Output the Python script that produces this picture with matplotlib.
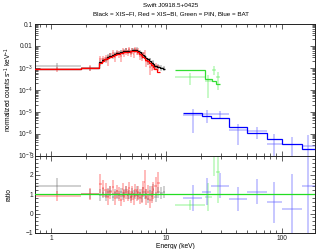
import numpy as np
import matplotlib
matplotlib.use("Agg")
import matplotlib.pyplot as plt
from matplotlib.ticker import FixedLocator, FixedFormatter, LogLocator, NullFormatter, MultipleLocator

# ---------------- data ----------------
title_1 = "Swift J0918.5+0425"
title_2 = "Black = XIS\u2212FI, Red = XIS\u2212BI, Green = PIN, Blue = BAT"

# XIS-FI (black) bins
fi_edges = [0.7, 1.83, 2.6, 2.75, 2.9, 3.05, 3.2, 3.35, 3.5, 3.65, 3.8, 3.95, 4.1, 4.25,
            4.4, 4.55, 4.7, 4.85, 5.0, 5.15, 5.3, 5.45, 5.6, 5.8, 6.0, 6.2, 6.4, 6.6,
            6.8, 7.05, 7.3, 7.6, 7.9, 8.3, 8.8, 9.3, 9.8]
fi_model = [8.6e-4, 1.0e-3, 1.82e-3, 2.19e-3, 2.63e-3, 3.09e-3, 3.55e-3, 3.89e-3, 4.27e-3,
            4.57e-3, 4.90e-3, 5.13e-3, 5.37e-3, 5.62e-3, 5.75e-3, 5.89e-3, 6.03e-3, 6.17e-3,
            6.31e-3, 6.46e-3, 6.46e-3, 6.46e-3, 6.03e-3, 5.13e-3, 4.37e-3, 3.80e-3, 3.31e-3,
            2.88e-3, 2.45e-3, 2.09e-3, 1.74e-3, 1.48e-3, 1.26e-3, 1.10e-3, 9.8e-4, 9.1e-4]
fi_ratio = [1.40, 1.00, 0.95, 1.05, 0.90, 1.10, 1.15, 0.85, 1.05, 1.00, 0.95, 1.10, 0.90,
            1.05, 1.20, 0.95, 1.00, 0.85, 1.10, 1.00, 0.95, 1.15, 0.90, 1.05, 0.80, 1.10,
            0.95, 1.00, 0.75, 1.15, 0.90, 1.25, 0.85, 1.10, 1.05, 1.10]
fi_err = [0.45, 0.25, 0.30, 0.25, 0.25, 0.22, 0.25, 0.22, 0.20, 0.22, 0.20, 0.22, 0.20,
          0.22, 0.25, 0.20, 0.22, 0.20, 0.22, 0.20, 0.22, 0.25, 0.22, 0.22, 0.20, 0.25,
          0.22, 0.25, 0.22, 0.25, 0.25, 0.28, 0.25, 0.28, 0.30, 0.30]

# XIS-BI (red) bins
bi_edges = [0.7, 1.83, 2.6, 2.75, 2.9, 3.05, 3.2, 3.35, 3.5, 3.65, 3.8, 3.95, 4.1, 4.25,
            4.4, 4.55, 4.7, 4.85, 5.0, 5.15, 5.3, 5.45, 5.6, 5.8, 6.0, 6.2, 6.4, 6.6,
            6.8, 7.05, 7.3, 7.6, 7.9, 8.3, 8.8]
bi_model = [9.3e-4, 1.0e-3, 1.68e-3, 2.02e-3, 2.42e-3, 2.84e-3, 3.27e-3, 3.58e-3, 3.93e-3,
            4.20e-3, 4.50e-3, 4.72e-3, 4.94e-3, 5.17e-3, 5.29e-3, 5.42e-3, 5.55e-3, 5.68e-3,
            5.80e-3, 5.94e-3, 5.94e-3, 5.94e-3, 5.40e-3, 4.50e-3, 3.80e-3, 3.20e-3, 2.75e-3,
            2.35e-3, 1.95e-3, 1.62e-3, 1.30e-3, 1.05e-3, 8.4e-4, 6.6e-4]
bi_ratio = [0.92, 1.00, 1.55, 1.30, 1.20, 0.85, 1.10, 1.35, 0.80, 1.15, 1.00, 0.70, 1.25,
            0.90, 1.10, 0.95, 1.30, 0.85, 1.05, 0.75, 1.20, 0.95, 1.10, 0.80, 0.90, 1.30,
            1.65, 0.85, 1.10, 0.70, 1.00, 1.20, 1.40, 1.60]
bi_err = [0.25, 0.30, 0.50, 0.45, 0.40, 0.40, 0.35, 0.40, 0.35, 0.35, 0.35, 0.30, 0.35,
          0.30, 0.35, 0.30, 0.35, 0.30, 0.35, 0.30, 0.35, 0.30, 0.35, 0.30, 0.35, 0.40,
          0.60, 0.40, 0.40, 0.40, 0.45, 0.45, 0.50, 0.55]

# HXD-PIN (green) bins
pin_edges = [12.0, 21.6, 25.0, 27.2, 29.5]
pin_model = [8.3e-4, 3.1e-4, 2.5e-4, 1.8e-4]
pin_ratio = [0.45, 0.85, 3.30, 2.15]
pin_err = [0.25, 0.72, 1.35, 1.60]

# BAT (blue) bins
bat_edges = [14.0, 20.5, 24.5, 35.0, 50.0, 75.0, 100.0, 150.0, 195.0]
bat_model = [9.1e-6, 6.6e-6, 5.4e-6, 2.0e-6, 1.1e-6, 5.9e-7, 3.4e-7, 1.95e-7]
bat_ratio = [0.80, 1.14, 1.45, 0.75, 1.14, 0.59, 0.23, 1.42]
bat_err = [0.68, 0.70, 0.63, 0.60, 0.65, 1.05, 1.80, 3.00]

top_ticks = [1e-1, 1e-2, 1e-3, 1e-4, 1e-5, 1e-6, 1e-7]
top_labels = ["0.1", "0.01", r"$10^{-3}$", r"$10^{-4}$", r"$10^{-5}$", r"$10^{-6}$", r"$10^{-7}$"]
bot_ticks = [-1, 0, 1, 2, 3]
bot_labels = ["\u22121", "0", "1", "2", "3"]
x_ticks = [1, 10, 100]
x_labels = ["1", "10", "100"]

# ---------------- figure ----------------
plt.rcParams['font.family'] = ['Liberation Sans', 'DejaVu Sans']
plt.rcParams['mathtext.fontset'] = 'custom'
plt.rcParams['mathtext.rm'] = 'Liberation Sans'
fs = 4.8

fig = plt.figure(figsize=(3.16, 2.49), dpi=100)
ax1 = fig.add_axes([0.1108, 0.3755, 0.886, 0.5281])
ax2 = fig.add_axes([0.1108, 0.0643, 0.886, 0.3112])

sets = [
    (fi_edges, fi_model, fi_ratio, fi_err, "black", "#707070"),
    (bi_edges, bi_model, bi_ratio, bi_err, "red", "#ff3030"),
    (pin_edges, pin_model, pin_ratio, pin_err, "#33dd33", "#55ee55"),
    (bat_edges, bat_model, bat_ratio, bat_err, "#0000ff", "#5555ff"),
]

ax2.axhline(1.0, color="#22dd22", lw=0.9, zorder=5)

for edges, model, ratio, err, mcol, dcol in sets:
    e = np.array(edges, dtype=float)
    m = np.array(model, dtype=float)
    r = np.array(ratio, dtype=float)
    s = np.array(err, dtype=float)
    lo, hi = e[:-1], e[1:]
    c = np.sqrt(lo * hi)
    xerr = [c - lo, hi - c]
    data = m * r
    derr = m * s
    ax1.errorbar(c, data, xerr=xerr, yerr=derr, fmt='none', ecolor=dcol,
                 elinewidth=1.1, alpha=0.42, capsize=0, zorder=2)
    ax1.stairs(m, e, baseline=None, color=mcol, lw=0.9, zorder=3)
    ax2.errorbar(c, r, xerr=xerr, yerr=s, fmt='none', ecolor=dcol,
                 elinewidth=1.1, alpha=0.42, capsize=0, zorder=2)

for ax in (ax1, ax2):
    ax.set_xscale('log')
    ax.set_xlim(0.727, 195)
    ax.tick_params(which='both', direction='in', top=True, right=True,
                   labelsize=fs, width=0.5, pad=1.5, colors='#222222')
    ax.tick_params(which='major', length=3.5)
    ax.tick_params(which='minor', length=2)
    for sp in ax.spines.values():
        sp.set_linewidth(0.7)
        sp.set_color('#222222')
    ax.xaxis.set_major_locator(FixedLocator(x_ticks))
    ax.xaxis.set_minor_locator(LogLocator(base=10, subs=np.arange(2, 10)))
    ax.xaxis.set_minor_formatter(NullFormatter())

ax1.set_yscale('log')
ax1.set_ylim(1e-7, 1e-1)
ax1.yaxis.set_major_locator(FixedLocator(top_ticks))
ax1.yaxis.set_major_formatter(FixedFormatter(top_labels))
ax1.yaxis.set_minor_locator(LogLocator(base=10, subs=np.arange(2, 10)))
ax1.yaxis.set_minor_formatter(NullFormatter())
ax1.set_xticklabels([])
ax1.set_ylabel("normalized counts s$^{-1}$ keV$^{-1}$", fontsize=fs, labelpad=3)

ax2.set_ylim(-1, 3)
ax2.yaxis.set_major_locator(FixedLocator(bot_ticks))
ax2.yaxis.set_major_formatter(FixedFormatter(bot_labels))
ax2.yaxis.set_minor_locator(MultipleLocator(0.2))
ax2.xaxis.set_major_formatter(FixedFormatter(x_labels))
ax2.set_ylabel("ratio", fontsize=fs, labelpad=9)
ax2.set_xlabel("Energy (keV)", fontsize=fs, labelpad=0.5)

fig.text(0.54, 0.978, title_1, ha='center', va='center', fontsize=4.5)
fig.text(0.54, 0.943, title_2, ha='center', va='center', fontsize=4.5)

fig.savefig("out.png", dpi=100)
